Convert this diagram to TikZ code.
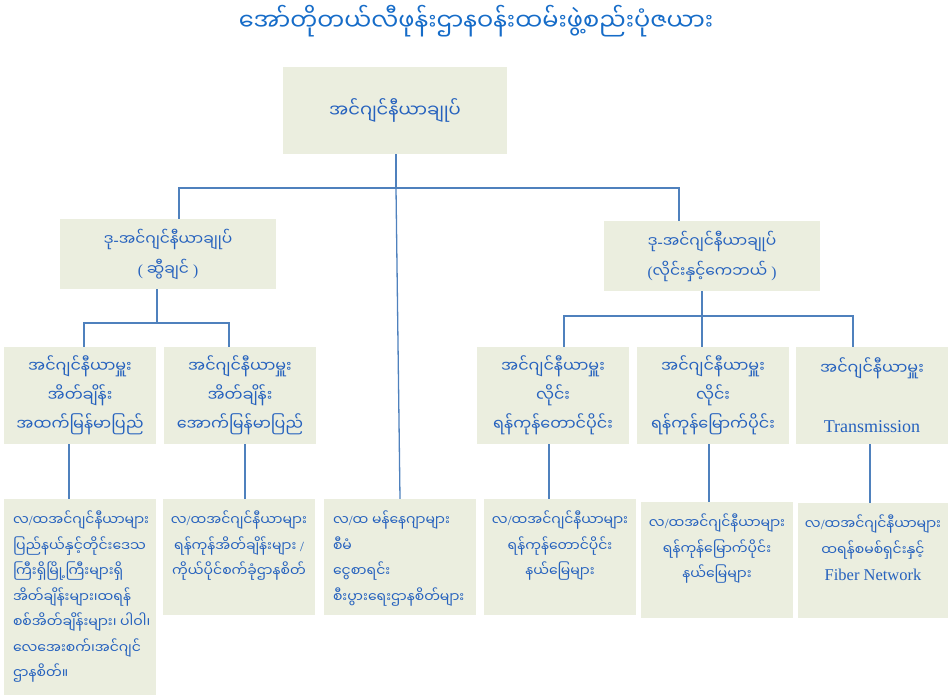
\documentclass[tikz,border=0pt]{standalone}
\usepackage{fontspec}
\setmainfont{Liberation Serif}
\newfontfamily\mm[Script=Myanmar]{Noto Sans Myanmar UI}
\usetikzlibrary{positioning}
\definecolor{boxfill}{RGB}{235,238,223}
\definecolor{wireblue}{RGB}{79,129,189}
\definecolor{inkblue}{RGB}{38,98,190}
\definecolor{titleblue}{RGB}{22,108,200}
\newcommand{\lt}[1]{{\rmfamily #1}}

\begin{document}
\begin{tikzpicture}[x=1pt, y=-1pt,
    box/.style={fill=boxfill, inner sep=0pt, text=inkblue, align=center},
    chief/.style={box, minimum width=224, minimum height=87, font=\mm\fontsize{18}{30}\selectfont},
    deputy/.style={box, minimum width=216, minimum height=70, font=\mm\fontsize{15.5}{30}\selectfont},
    head/.style={box, minimum width=152, minimum height=97, font=\mm\fontsize{16}{29}\selectfont},
    cell/.style={box, minimum width=152},
    note/.style={inner sep=0pt, text=inkblue, font=\mm\fontsize{14}{25.5}\selectfont},
    wire/.style={draw=wireblue, line width=1.3pt}]
    \useasboundingbox (0,0) rectangle (948,696);

    \node (title) at (476,21) [text=titleblue, font=\mm\fontsize{24}{28}\selectfont] {အော်တိုတယ်လီဖုန်းဌာနဝန်းထမ်းဖွဲ့စည်းပုံဇယား};

    % level 1 and 2
    \node (top) at (395,110.5) [chief] {အင်ဂျင်နီယာချုပ်};
    \node (sw) at (168,254) [deputy] {ဒု\lt{-}အင်ဂျင်နီယာချုပ်\\\lt{(} ဆွီချင် \lt{)}};
    \node (ln) at (712,256) [deputy] {ဒု\lt{-}အင်ဂျင်နီယာချုပ်\\\lt{(}လိုင်းနှင့်ကေဘယ် \lt{)}};

    % level 3
    \node (ex1) at (80,395.5) [head] {အင်ဂျင်နီယာမှူး\\အိတ်ချိန်း\\အထက်မြန်မာပြည်};
    \node (ex2) at (240,395.5) [head] {အင်ဂျင်နီယာမှူး\\အိတ်ချိန်း\\အောက်မြန်မာပြည်};
    \node (ln1) at (553,395.5) [head] {အင်ဂျင်နီယာမှူး\\လိုင်း\\ရန်ကုန်တောင်ပိုင်း};
    \node (ln2) at (713,395.5) [head] {အင်ဂျင်နီယာမှူး\\လိုင်း\\ရန်ကုန်မြောက်ပိုင်း};
    \node (tr) at (872,395.5) [head] {အင်ဂျင်နီယာမှူး\\[\baselineskip]\lt{\fontsize{18}{20}\selectfont Transmission}};

    % level 4
    \node (a) at (80,597) [cell, minimum height=196] {};
    \node (b) at (239,557) [cell, minimum height=116] {};
    \node (c) at (400,557) [cell, minimum height=116] {};
    \node (d) at (560,557) [cell, minimum height=116] {};
    \node (e) at (717,560) [cell, minimum height=116] {};
    \node (f) at (873,560.5) [cell, minimum width=150, minimum height=115] {};

    \node (atx) [note, align=left, below right=12pt and 9pt of a.north west] {လ\lt{/}ထအင်ဂျင်နီယာများ\\ပြည်နယ်နှင့်တိုင်းဒေသ\\ကြီးရှိမြို့ကြီးများရှိ\\အိတ်ချိန်းများ၊ထရန်\\စစ်အိတ်ချိန်းများ၊ ပါဝါ၊\\လေအေးစက်၊အင်ဂျင်\\ဌာနစိတ်။};
    \node (btx) [note, align=center, below=12pt of b.north] {လ\lt{/}ထအင်ဂျင်နီယာများ\\ရန်ကုန်အိတ်ချိန်းများ \lt{/}\\ကိုယ်ပိုင်စက်ခုံဌာနစိတ်};
    \node (ctx) [note, align=left, below right=12pt and 9pt of c.north west] {လ\lt{/}ထ မန်နေဂျာများ\\စီမံ\\ငွေစာရင်း\\စီးပွားရေးဌာနစိတ်များ};
    \node (dtx) [note, align=center, below=12pt of d.north] {လ\lt{/}ထအင်ဂျင်နီယာများ\\ရန်ကုန်တောင်ပိုင်း\\နယ်မြေများ};
    \node (etx) [note, align=center, below=12pt of e.north] {လ\lt{/}ထအင်ဂျင်နီယာများ\\ရန်ကုန်မြောက်ပိုင်း\\နယ်မြေများ};
    \node (ftx) [note, align=center, below=12pt of f.north] {လ\lt{/}ထအင်ဂျင်နီယာများ\\ထရန်စမစ်ရှင်းနှင့်\\\lt{\fontsize{16.5}{20}\selectfont Fiber Network}};

    % connectors
    \coordinate (b1l) at (179,188);
    \coordinate (b1m) at (396,188);
    \coordinate (b1r) at (679,188);
    \draw[wire] (top.south -| b1m) -- (b1m);
    \draw[wire] (b1l |- sw.north) -- (b1l) -- (b1r) -- (b1r |- ln.north);
    \draw[wire] (b1m) -- (c.north);

    \coordinate (b2l) at (84,323);
    \coordinate (b2m) at (157,323);
    \coordinate (b2r) at (229,323);
    \draw[wire] (sw.south -| b2m) -- (b2m);
    \draw[wire] (b2l |- ex1.north) -- (b2l) -- (b2r) -- (b2r |- ex2.north);

    \coordinate (b3l) at (564,316);
    \coordinate (b3m) at (702,316);
    \coordinate (b3r) at (853,316);
    \draw[wire] (ln.south -| b3m) -- (b3m) -- (b3m |- ln2.north);
    \draw[wire] (b3l |- ln1.north) -- (b3l) -- (b3r) -- (b3r |- tr.north);

    \foreach \u/\v/\s/\t in {ex1/a/-11/-11, ex2/b/5/6, ln1/d/-4/-11, ln2/e/-4/-8, tr/f/-2/-3}
        \draw[wire] ([xshift=\s]\u.south) -- ([xshift=\t]\v.north);
\end{tikzpicture}
\end{document}
